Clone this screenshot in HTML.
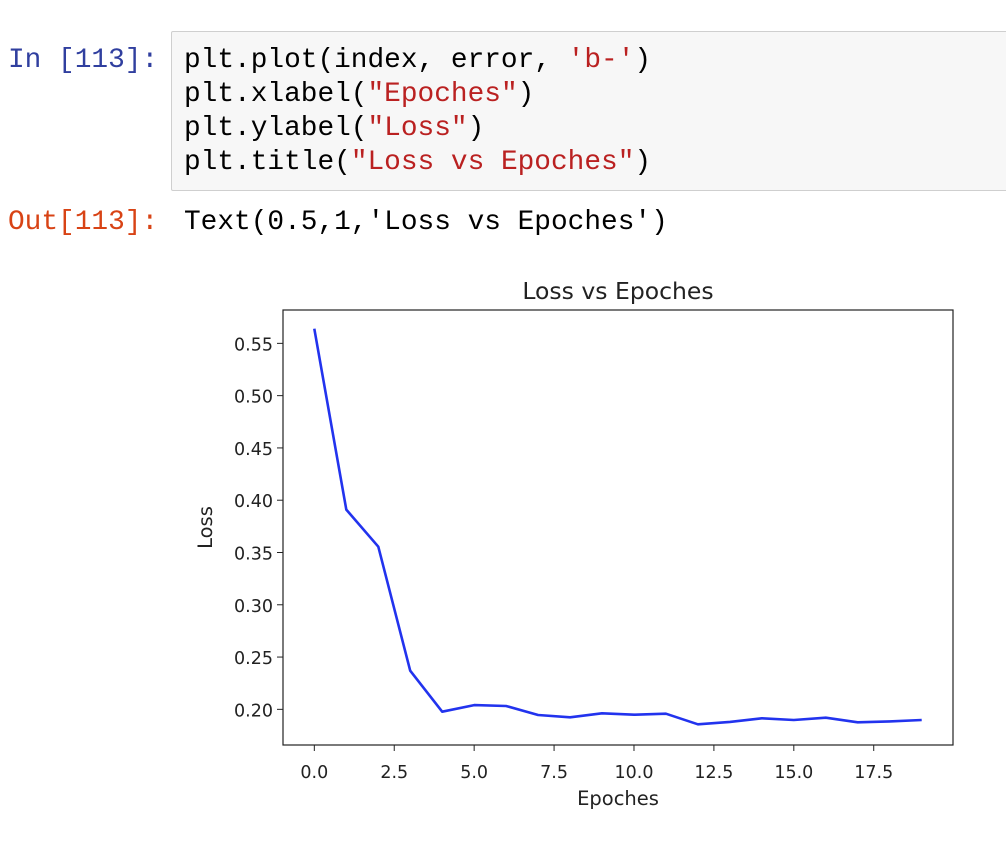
<!DOCTYPE html>
<html><head><meta charset="utf-8">
<style>
body{margin:0;width:1006px;height:848px;background:#fff;overflow:hidden;position:relative;font-family:"Liberation Mono",monospace;}
.mono{position:absolute;font-family:"Liberation Mono",monospace;font-size:27.8px;line-height:34px;white-space:pre;}
#codebox{position:absolute;left:171px;top:31px;width:840px;height:160px;background:#f7f7f7;border:1px solid #cfcfcf;border-radius:2px;box-sizing:border-box;}
.s{color:#ba2121;}
</style></head><body>
<div class="mono" style="left:8px;top:44px;color:#303f9f;">In [113]:</div>
<div id="codebox"></div>
<div class="mono" style="left:184px;top:44px;color:#000;">plt.plot(index, error, <span class="s">'b-'</span>)
plt.xlabel(<span class="s">"Epoches"</span>)
plt.ylabel(<span class="s">"Loss"</span>)
plt.title(<span class="s">"Loss vs Epoches"</span>)</div>
<div class="mono" style="left:8px;top:206px;color:#d84315;">Out[113]:</div>
<div class="mono" style="left:184px;top:206px;color:#000;">Text(0.5,1,'Loss vs Epoches')</div>
<svg id="chart" width="1006" height="848" style="position:absolute;left:0;top:0" font-family="DejaVu Sans, sans-serif"></svg>
<script>
const epochs=[0,1,2,3,4,5,6,7,8,9,10,11,12,13,14,15,16,17,18,19];
const loss=[0.564,0.391,0.3555,0.237,0.1977,0.2041,0.2032,0.1946,0.1924,0.1962,0.1949,0.1958,0.1857,0.188,0.1914,0.1898,0.192,0.1876,0.1885,0.1898];
const xTicks=[0,2.5,5,7.5,10,12.5,15,17.5];
const xTickLabels=["0.0","2.5","5.0","7.5","10.0","12.5","15.0","17.5"];
const yTicks=[0.20,0.25,0.30,0.35,0.40,0.45,0.50,0.55];
const yTickLabels=["0.20","0.25","0.30","0.35","0.40","0.45","0.50","0.55"];
const L=283,R=953,T=310,B=745;
const xMin=-0.98,xMax=19.98,yMin=0.1659,yMax=0.5819;
const sx=v=>L+(v-xMin)/(xMax-xMin)*(R-L);
const sy=v=>B-(v-yMin)/(yMax-yMin)*(B-T);
const svg=document.getElementById('chart');
const NS='http://www.w3.org/2000/svg';
function mk(tag,attrs,parent){const e=document.createElementNS(NS,tag);for(const k in attrs)e.setAttribute(k,attrs[k]);(parent||svg).appendChild(e);return e;}
const frame=mk('rect',{x:L,y:T,width:R-L,height:B-T,fill:'none',stroke:'#222','stroke-width':1.2});


xTicks.forEach((v,i)=>{
  const t=mk('line',{x1:sx(v),x2:sx(v),y1:B,y2:B+6,stroke:'#222','stroke-width':1});
  
  
  const l=mk('text',{x:sx(v),y:B+33,'text-anchor':'middle','font-size':17.5,fill:'#222'});
  l.textContent=xTickLabels[i];
  
  
});
yTicks.forEach((v,i)=>{
  const t=mk('line',{x1:L-6,x2:L,y1:sy(v),y2:sy(v),stroke:'#222','stroke-width':1});
  
  
  const l=mk('text',{x:L-10,y:sy(v)+7,'text-anchor':'end','font-size':17.5,fill:'#222'});
  l.textContent=yTickLabels[i];
  
  
});
const pts=epochs.map((e,i)=>sx(e).toFixed(1)+','+sy(loss[i]).toFixed(1)).join(' ');
const line=mk('polyline',{points:pts,fill:'none',stroke:'#2233ee','stroke-width':2.6,'stroke-linejoin':'round'});


const title=mk('text',{x:(L+R)/2,y:299,'text-anchor':'middle','font-size':23.5,fill:'#222'});
title.textContent='Loss vs Epoches';


const xl=mk('text',{x:(L+R)/2,y:805,'text-anchor':'middle','font-size':19.5,fill:'#222'});
xl.textContent='Epoches';


const yl=mk('text',{x:0,y:0,'text-anchor':'middle','font-size':19.5,fill:'#222',transform:'translate(212,'+((T+B)/2)+') rotate(-90)'});
yl.textContent='Loss';


</script>
</body></html>
